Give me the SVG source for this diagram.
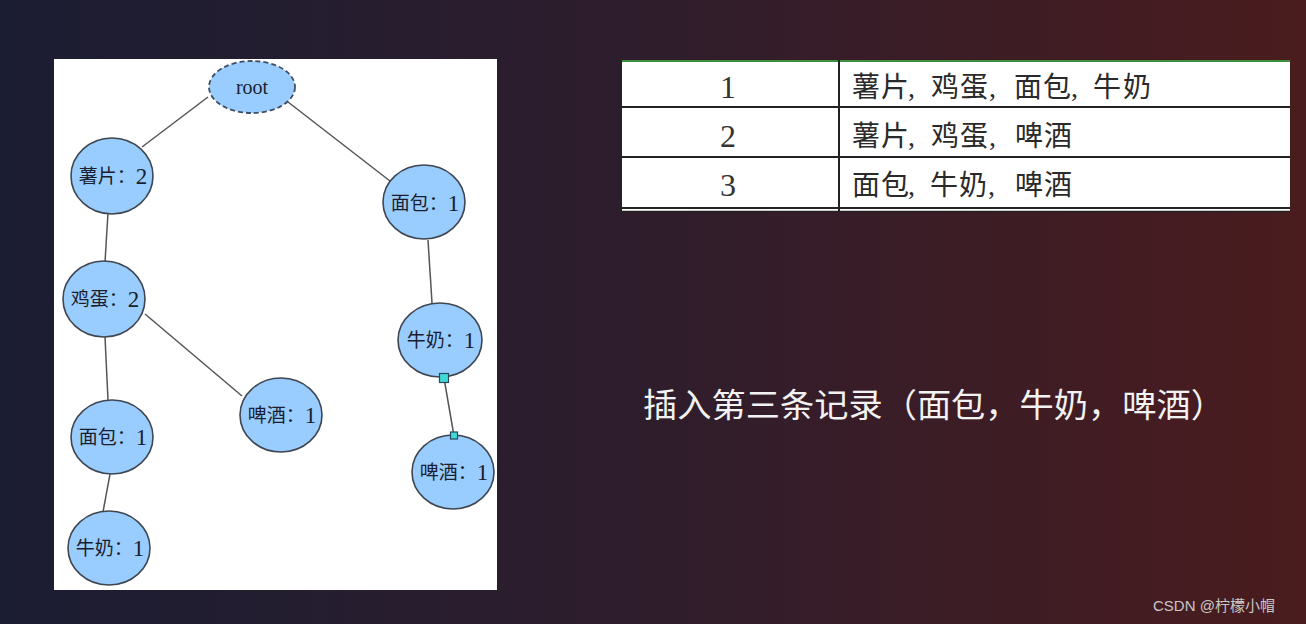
<svg xmlns="http://www.w3.org/2000/svg" width="1306" height="624" viewBox="0 0 1306 624">
<defs>
<linearGradient id="bg" x1="0" y1="0" x2="1" y2="0">
<stop offset="0" stop-color="#1b1d33"/>
<stop offset="0.5" stop-color="#2f1d2c"/>
<stop offset="1" stop-color="#4a1c1e"/>
</linearGradient>
<style>
.node{fill:#99ccff;stroke:#3f4650;stroke-width:1.6}
.root{fill:#99ccff;stroke:#3f4f66;stroke-width:1.8;stroke-dasharray:5 3}
.lbl{font-family:"Liberation Serif","Noto Sans CJK SC",serif;font-size:19px;fill:#1a1e2e;text-anchor:middle;dominant-baseline:central}
.d{font-size:23px}
.edge{stroke:#555;stroke-width:1.5;fill:none}
.hdl{fill:#3fd9d9;stroke:#2b4a5a;stroke-width:1.2}
.cell{font-family:"Liberation Serif","Noto Sans CJK SC",serif;font-size:28px;fill:#2a2a2a}
.num{font-family:"Liberation Serif",serif;font-size:32px;fill:#333;text-anchor:middle}
.tl{stroke:#222;stroke-width:2}
</style>
</defs>
<rect x="0" y="0" width="1306" height="624" fill="url(#bg)"/>
<rect x="54" y="59" width="443" height="531" fill="#ffffff"/>
<g id="connectors">
<line class="edge" x1="208" y1="97" x2="142" y2="147"/>
<line class="edge" x1="288" y1="102" x2="390" y2="181"/>
<line class="edge" x1="108" y1="213" x2="105" y2="262"/>
<line class="edge" x1="428" y1="240" x2="432" y2="303"/>
<line class="edge" x1="145" y1="314" x2="242" y2="396"/>
<line class="edge" x1="105" y1="337" x2="108" y2="400"/>
<line class="edge" x1="110" y1="474" x2="103" y2="512"/>
<line class="edge" x1="444" y1="378" x2="454" y2="436"/>
</g>
<g id="n-root"><ellipse class="root" cx="252" cy="87" rx="43" ry="26"/><text class="lbl" x="252" y="87" style="font-size:20px">root</text></g>
<g id="n-shupian"><ellipse class="node" cx="112" cy="176" rx="41" ry="38"/><text class="lbl" x="113" y="176">薯片：<tspan class="d">2</tspan></text></g>
<g id="n-mianbao-r"><ellipse class="node" cx="424" cy="202" rx="41" ry="37"/><text class="lbl" x="425" y="203">面包：<tspan class="d">1</tspan></text></g>
<g id="n-jidan"><ellipse class="node" cx="104" cy="299" rx="41" ry="38"/><text class="lbl" x="105" y="299">鸡蛋：<tspan class="d">2</tspan></text></g>
<g id="n-niunai-r"><ellipse class="node" cx="440" cy="340" rx="42" ry="37"/><text class="lbl" x="441" y="340">牛奶：<tspan class="d">1</tspan></text></g>
<g id="n-pijiu-m"><ellipse class="node" cx="281" cy="415" rx="41" ry="37"/><text class="lbl" x="282" y="415">啤酒：<tspan class="d">1</tspan></text></g>
<g id="n-mianbao-l"><ellipse class="node" cx="112" cy="437" rx="41" ry="37"/><text class="lbl" x="113" y="437">面包：<tspan class="d">1</tspan></text></g>
<g id="n-pijiu-r"><ellipse class="node" cx="453" cy="472" rx="41" ry="37"/><text class="lbl" x="454" y="472">啤酒：<tspan class="d">1</tspan></text></g>
<g id="n-niunai-l"><ellipse class="node" cx="109" cy="548" rx="41" ry="37"/><text class="lbl" x="110" y="548">牛奶：<tspan class="d">1</tspan></text></g>
<g id="handles">
<rect class="hdl" x="439.5" y="373.5" width="9" height="9"/>
<rect class="hdl" x="450.5" y="432" width="7" height="7"/>
</g>
<g id="table">
<rect x="620" y="60" width="670" height="152" fill="#ffffff"/>
<line x1="620" y1="61" x2="1290" y2="61" stroke="#3c8f3c" stroke-width="2"/>
<line class="tl" x1="620" y1="107" x2="1290" y2="107"/>
<line class="tl" x1="620" y1="157" x2="1290" y2="157"/>
<line class="tl" x1="620" y1="208" x2="1290" y2="208"/>
<line x1="620" y1="211.5" x2="1290" y2="211.5" stroke="#222" stroke-width="1.5"/>
<line class="tl" x1="621" y1="60" x2="621" y2="212"/>
<line class="tl" x1="839" y1="60" x2="839" y2="212"/>
<text class="num" x="728" y="98">1</text>
<text class="num" x="728" y="147">2</text>
<text class="num" x="728" y="196">3</text>
<text class="cell" x="852 881 908 931 960 989 1014 1043 1071 1093 1123" y="97">薯片,鸡蛋,面包,牛奶</text>
<text class="cell" x="852 881 908 931 960 989 1015 1044" y="146">薯片,鸡蛋,啤酒</text>
<text class="cell" x="852 881 908 930 959 988 1015 1044" y="195">面包,牛奶,啤酒</text>
</g>
<text x="643" y="417" font-family="'Noto Sans CJK SC',sans-serif" font-size="33" fill="#f2f2f2" textLength="582" lengthAdjust="spacingAndGlyphs">插入第三条记录（面包，牛奶，啤酒）</text>
<text x="1153" y="611" font-family="'Liberation Sans','Noto Sans CJK SC',sans-serif" font-size="15" fill="#c8c8c8">CSDN @柠檬小帽</text>
</svg>
